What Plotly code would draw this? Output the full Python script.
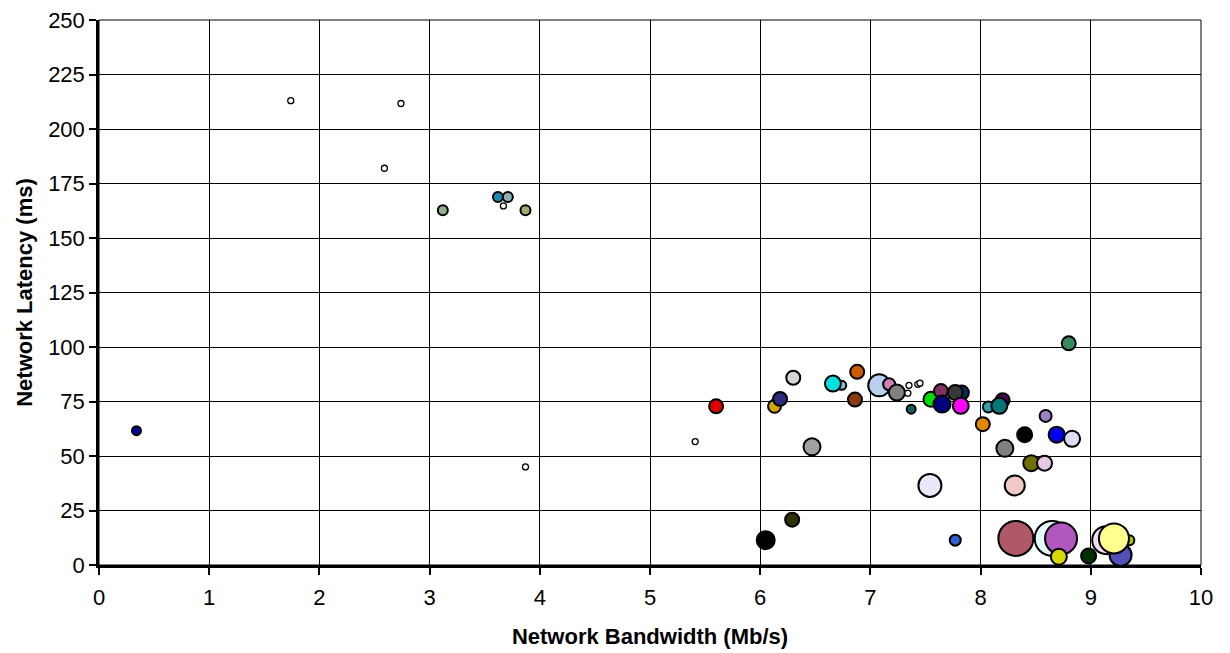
import plotly.graph_objects as go

# Data (bandwidth Mb/s, latency ms, bubble size)
bandwidth = [0.34, 1.74, 2.74, 2.59, 3.67, 3.87, 5.41,
             3.12, 3.62, 3.71, 3.87,
             5.60, 6.13, 6.18, 6.30, 6.47, 6.74, 6.66, 6.88, 6.86,
             8.80, 7.08, 7.17, 7.24, 7.35, 7.34, 7.43, 7.45, 7.37,
             7.55, 7.64, 7.83, 7.77, 7.65, 7.82, 8.02, 8.07, 8.20, 8.17,
             8.59, 8.40, 8.69, 8.83, 8.22, 8.46, 8.58,
             7.54, 8.31, 7.77, 6.05, 6.29,
             8.32, 8.65, 8.73, 8.71, 8.98, 9.14, 9.35, 9.27, 9.21]
latency = [61.6, 213.0, 211.7, 182.0, 164.7, 45.0, 56.6,
           162.7, 168.8, 168.8, 162.7,
           72.8, 72.8, 76.2, 85.9, 54.2, 82.4, 83.2, 88.6, 75.9,
           101.7, 82.4, 82.9, 79.1, 82.4, 78.8, 82.9, 83.4, 71.5,
           76.0, 79.8, 79.1, 79.1, 73.8, 73.0, 64.6, 72.5, 75.6, 73.0,
           68.4, 59.8, 59.8, 57.9, 53.5, 46.7, 46.7,
           36.5, 36.5, 11.4, 11.4, 20.8,
           12.2, 12.2, 12.2, 3.8, 4.1, 11.4, 11.4, 4.6, 12.2]
bubble_size = [9, 6, 6, 6, 6, 6, 6,
               10, 10, 10, 10,
               14, 13, 14, 14, 17, 9, 16, 14, 14,
               14, 22, 12, 16, 6, 6, 6, 6, 9,
               15, 14, 14, 15, 17, 16, 14, 11, 14, 16,
               12, 15, 16, 16, 17, 16, 15,
               23, 20, 11, 18, 14,
               35, 35, 32, 16, 15, 28, 10, 22, 30]

# Styling
colors = ["#0000A0", "#FFFFFF", "#FFFFFF", "#FFFFFF", "#FFFFFF", "#FFFFFF", "#FFFFFF",
          "#8FAF8F", "#1A8AB0", "#8FAFB0", "#A8A870",
          "#DD0000", "#D4A800", "#2A2A80", "#D4D4D4", "#A0A0A0", "#8CB8E0", "#00E0E0", "#D05A00", "#8B3A10",
          "#3A8A60", "#B8D0F0", "#D080B0", "#808080", "#FFFFFF", "#FFFFFF", "#FFFFFF", "#FFFFFF", "#106060",
          "#00DD00", "#803060", "#003060", "#383838", "#000080", "#FF00FF", "#E08800", "#30A0A8", "#500050", "#007878",
          "#A080C8", "#000000", "#0000EE", "#DCDCF4", "#808080", "#707000", "#E4C8E4",
          "#E8E8F8", "#F0C8C8", "#3060D0", "#000000", "#303000",
          "#B05868", "#E4FAFA", "#B058C0", "#D8D800", "#003000", "#F4E0F4", "#A0C000", "#5050B8", "#FFFF90"]

fig = go.Figure()
fig.add_trace(go.Scatter(
    x=bandwidth, y=latency, mode="markers",
    marker=dict(size=bubble_size, color=colors, opacity=1,
                line=dict(color="black", width=[2 if s > 7 else 1.3 for s in bubble_size])),
    hoverinfo="x+y", showlegend=False, cliponaxis=False))

font = "Liberation Sans, Arial, sans-serif"
fig.update_layout(
    width=1230, height=653,
    margin=dict(l=91, r=37, t=12, b=96),
    paper_bgcolor="white", plot_bgcolor="white",
    font=dict(family=font, size=22, color="black"),
    xaxis=dict(range=[0, 10], dtick=1, tick0=0, showgrid=True, gridcolor="black", gridwidth=1,
               showline=True, linecolor="black", linewidth=2.5, ticks="outside", ticklen=7,
               tickwidth=2, tickcolor="black", zeroline=False, automargin=False,
               tickfont=dict(size=22), ticklabelstandoff=4,
               title=dict(text="<b>Network Bandwidth (Mb/s)</b>", font=dict(size=22), standoff=20)),
    yaxis=dict(range=[0, 250], dtick=25, tick0=0, showgrid=True, gridcolor="black", gridwidth=1,
               showline=True, linecolor="black", linewidth=2.5, ticks="outside", ticklen=7,
               tickwidth=2, tickcolor="black", zeroline=False, automargin=False,
               tickfont=dict(size=22), ticklabeloverflow="allow",
               title=dict(text="<b>Network Latency (ms)</b>", font=dict(size=22), standoff=10)),
    shapes=[dict(type="rect", xref="paper", yref="paper", x0=0, y0=0, x1=1, y1=1,
                 line=dict(color="black", width=1), layer="below")],
)

fig.write_html("out.html")
